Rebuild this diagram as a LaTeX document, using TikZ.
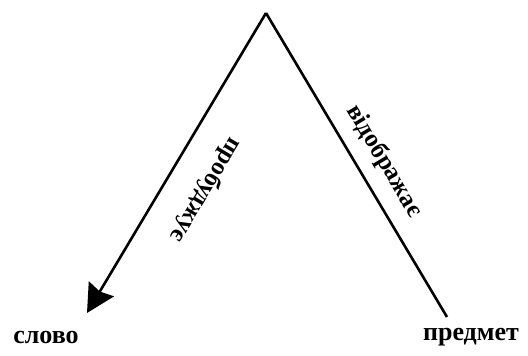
\documentclass[tikz,border=0pt]{standalone}
\usepackage{fontspec}
\setmainfont{Liberation Serif}
\usetikzlibrary{arrows.meta}
\begin{document}
\begin{tikzpicture}[x=1pt,y=-1pt,
  lbl/.style={font=\fontsize{26}{28}\selectfont\bfseries, inner sep=0pt},
  rlbl/.style={font=\fontsize{25}{27}\selectfont\bfseries, inner sep=0pt},
  edge/.style={line width=2.6pt}]
\useasboundingbox (0,0) rectangle (528,356);
\coordinate (apex) at (266,13);
\coordinate (tip) at (87,313);
\coordinate (rend) at (447,317);
\node[lbl] (slovo) at (46,337) {слово};
\node[lbl] (predmet) at (471,337) {предмет};
\draw[edge,-{Stealth[length=28pt,width=29pt,inset=3pt]}] (apex) -- (tip);
\draw[edge] (apex) -- (rend);
\node[rlbl, rotate=239] (prob) at (206,190) {пробуджує};
\node[rlbl, rotate=-59.2] (vidob) at (384,161) {відображає};
\end{tikzpicture}
\end{document}
